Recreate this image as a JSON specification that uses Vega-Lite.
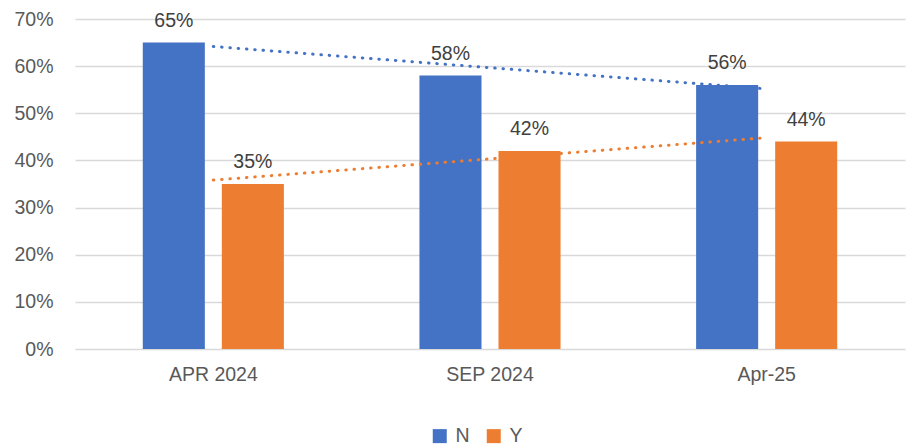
{
  "$schema": "https://vega.github.io/schema/vega-lite/v6.json",
  "width": 830,
  "height": 330,
  "autosize": {"type": "none"},
  "padding": {"left": 75, "top": 19, "right": 8, "bottom": 99},
  "background": "white",
  "config": {
    "view": {"stroke": null},
    "font": "Liberation Sans",
    "axis": {"labelFont": "Liberation Sans", "labelColor": "#595959", "labelFontSize": 19.5, "titleFontSize": 0}
  },
  "datasets": {
    "bars": [
      {"period": "APR 2024", "series": "N", "value": 0.65},
      {"period": "APR 2024", "series": "Y", "value": 0.35},
      {"period": "SEP 2024", "series": "N", "value": 0.58},
      {"period": "SEP 2024", "series": "Y", "value": 0.42},
      {"period": "Apr-25", "series": "N", "value": 0.56},
      {"period": "Apr-25", "series": "Y", "value": 0.44}
    ],
    "trend": [
      {"period": "APR 2024", "series": "N", "value": 0.6417},
      {"period": "SEP 2024", "series": "N", "value": 0.5967},
      {"period": "Apr-25", "series": "N", "value": 0.5517},
      {"period": "APR 2024", "series": "Y", "value": 0.3583},
      {"period": "SEP 2024", "series": "Y", "value": 0.4033},
      {"period": "Apr-25", "series": "Y", "value": 0.4483}
    ]
  },
  "encoding": {
    "x": {
      "field": "period", "type": "nominal", "sort": ["APR 2024", "SEP 2024", "Apr-25"],
      "scale": {"paddingInner": 0.49, "paddingOuter": 0.245},
      "axis": {"title": null, "labelAngle": 0, "ticks": false, "domain": false, "labelPadding": 16, "grid": false}
    },
    "y": {
      "field": "value", "type": "quantitative",
      "scale": {"domain": [0, 0.7], "nice": false},
      "axis": {"title": null, "format": ".0%", "values": [0, 0.1, 0.2, 0.3, 0.4, 0.5, 0.6, 0.7], "ticks": false, "domain": false, "labelPadding": 22, "gridColor": "#d9d9d9", "gridWidth": 1.3}
    }
  },
  "layer": [
    {
      "data": {"name": "bars"},
      "mark": {"type": "bar"},
      "encoding": {
        "xOffset": {"field": "series", "type": "nominal", "scale": {"paddingInner": 0.215, "paddingOuter": 0}},
        "color": {
          "field": "series", "type": "nominal",
          "scale": {"domain": ["N", "Y"], "range": ["#4472C4", "#ED7D31"]},
          "legend": {
            "title": null, "orient": "none", "direction": "horizontal",
            "legendX": 355, "legendY": 407,
            "symbolType": "square", "symbolSize": 196, "symbolStrokeWidth": 0, "symbolOpacity": 1,
            "labelFontSize": 19.5, "labelColor": "#595959", "labelFont": "Liberation Sans",
            "labelOffset": 6, "columnPadding": 14
          }
        }
      }
    },
    {
      "data": {"name": "bars"},
      "mark": {"type": "text", "baseline": "alphabetic", "dy": -16, "fontSize": 19.5, "color": "#404040", "font": "Liberation Sans"},
      "encoding": {
        "xOffset": {"field": "series", "type": "nominal"},
        "text": {"field": "value", "type": "quantitative", "format": ".0%"}
      }
    },
    {
      "data": {"name": "trend"},
      "mark": {"type": "line", "strokeWidth": 3, "strokeDash": [0.5, 7.8], "strokeCap": "round"},
      "encoding": {
        "detail": {"field": "series", "type": "nominal"},
        "stroke": {
          "field": "series", "type": "nominal",
          "scale": {"domain": ["N", "Y"], "range": ["#4472C4", "#ED7D31"]},
          "legend": null
        }
      }
    }
  ]
}
